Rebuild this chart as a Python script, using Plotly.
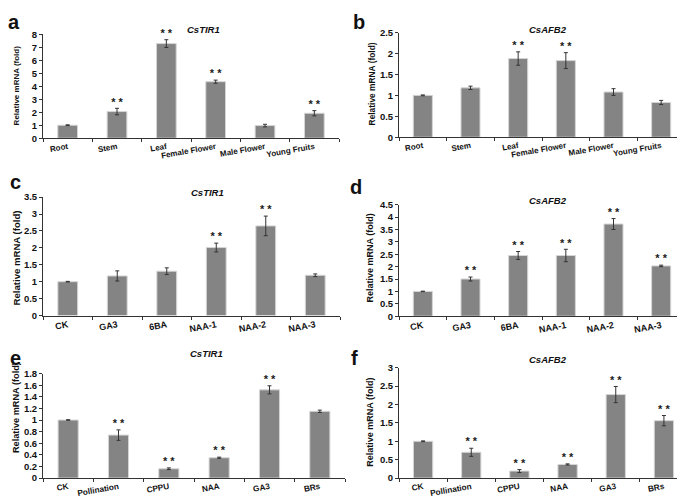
import plotly.graph_objects as go

# ---------------- data ----------------
tissues = ["Root", "Stem", "Leaf", "Female Flower", "Male Flower", "Young Fruits"]
treat1 = ["CK", "GA3", "6BA", "NAA-1", "NAA-2", "NAA-3"]
treat2 = ["CK", "Pollination", "CPPU", "NAA", "GA3", "BRs"]

a_vals = [1.0, 2.05, 7.28, 4.35, 0.97, 1.92]
a_err = [0.03, 0.25, 0.3, 0.12, 0.1, 0.2]
a_sig = ["", "**", "**", "**", "", "**"]

b_vals = [1.0, 1.18, 1.88, 1.83, 1.08, 0.83]
b_err = [0.01, 0.04, 0.16, 0.19, 0.08, 0.05]
b_sig = ["", "", "**", "**", "", ""]

c_vals = [1.0, 1.17, 1.31, 2.01, 2.65, 1.19]
c_err = [0.01, 0.15, 0.1, 0.13, 0.29, 0.04]
c_sig = ["", "", "", "**", "**", ""]

d_vals = [1.0, 1.5, 2.45, 2.45, 3.72, 2.03]
d_err = [0.01, 0.08, 0.16, 0.25, 0.22, 0.03]
d_sig = ["", "**", "**", "**", "**", "**"]

e_vals = [1.0, 0.74, 0.16, 0.35, 1.52, 1.15]
e_err = [0.005, 0.09, 0.015, 0.01, 0.07, 0.02]
e_sig = ["", "**", "**", "**", "**", ""]

f_vals = [1.0, 0.7, 0.19, 0.37, 2.27, 1.56]
f_err = [0.01, 0.11, 0.04, 0.015, 0.22, 0.14]
f_sig = ["", "**", "**", "**", "**", "**"]

W, H = 685, 499
FONT = "Arial, Liberation Sans, sans-serif"

# letter, title, categories, values, errors, sig, ymax, dtick, px box (x0,x1,ybottom,ytop),
# letter pos, title pos, ytitle pos, ytitle size, xtick size
panels = [
    ("a", "CsTIR1", tissues, a_vals, a_err, a_sig, 8, 1, (35, 331, 127, 20.7), (6, 8), (195, 16), (8, 73), 8, 8),
    ("b", "CsAFB2", tissues, b_vals, b_err, b_sig, 2.5, 0.5, (391, 677, 126, 19), (351, 8), (540, 16), (364, 72), 8.4, 8),
    ("c", "CsTIR1", treat1, c_vals, c_err, c_sig, 3.5, 0.5, (35, 332, 308.3, 187.3), (7, 172), (200, 183), (8, 250), 9.6, 9),
    ("d", "CsAFB2", treat1, d_vals, d_err, d_sig, 4.5, 0.5, (391, 677, 309, 195), (348, 177), (540, 191), (362, 250), 9, 9),
    ("e", "CsTIR1", treat2, e_vals, e_err, e_sig, 1.8, 0.2, (35, 337, 474.5, 367.7), (7, 352), (198, 347), (8, 403), 9.2, 8.2),
    ("f", "CsAFB2", treat2, f_vals, f_err, f_sig, 3, 0.5, (391, 680, 474.5, 361.7), (346, 352), (540, 353), (362, 418), 9, 8.2),
]

fig = go.Figure()
annotations = []
layout = {}

for i, (letter, title, cats, vals, errs, sig, ymax, dtick, box, lpos, tpos, ypos, ysz, xsz) in enumerate(panels):
    n = "" if i == 0 else str(i + 1)
    xa, ya = "x" + n, "y" + n
    x0, x1, yb, yt = box
    fig.add_trace(go.Bar(
        x=cats, y=vals, xaxis=xa, yaxis=ya, width=0.4,
        marker=dict(color="#848484", line=dict(color="#d6d6d6", width=1)),
        error_y=dict(type="data", array=errs, visible=True, color="#333333", thickness=1, width=2),
        showlegend=False,
    ))
    fig.add_trace(go.Scatter(
        x=cats, y=[v + e for v, e in zip(vals, errs)], xaxis=xa, yaxis=ya,
        mode="text", text=[s.replace("**", "* *") for s in sig], textposition="top center",
        textfont=dict(family=FONT, size=11, color="#1a1a1a", weight="bold"),
        showlegend=False, cliponaxis=False, hoverinfo="skip",
    ))
    layout["xaxis" + n] = dict(
        domain=[x0 / W, x1 / W], anchor=ya, showline=True, linecolor="#333333", linewidth=1,
        ticks="outside", ticklen=3, tickcolor="#333333", tickson="boundaries",
        tickangle=-10, tickfont=dict(family=FONT, size=xsz, color="#111111", weight="bold"),
        showgrid=False, fixedrange=True,
    )
    layout["yaxis" + n] = dict(
        domain=[1 - yb / H, 1 - yt / H], anchor=xa, range=[0, ymax], dtick=dtick,
        showline=True, linecolor="#333333", linewidth=1,
        ticks="outside", ticklen=3, tickcolor="#333333",
        tickfont=dict(family=FONT, size=9.5, color="#111111", weight="bold"),
        showgrid=False, zeroline=False,
    )
    annotations.append(dict(
        text="<b>%s</b>" % letter, x=lpos[0] / W, y=1 - lpos[1] / H, xref="paper", yref="paper",
        showarrow=False, font=dict(family=FONT, size=20, color="#111111"),
        xanchor="center", yanchor="middle",
    ))
    annotations.append(dict(
        text="<b><i>%s</i></b>" % title, x=tpos[0] / W, y=1 - tpos[1] / H, xref="paper", yref="paper",
        showarrow=False, font=dict(family=FONT, size=9.5, color="#111111"),
        xanchor="center", yanchor="middle",
    ))
    annotations.append(dict(
        text="<b>Relative mRNA (fold)</b>", x=ypos[0] / W, y=1 - ypos[1] / H, xref="paper", yref="paper",
        showarrow=False, textangle=-90, font=dict(family=FONT, size=ysz, color="#111111"),
        xanchor="center", yanchor="middle",
    ))

fig.update_layout(
    width=W, height=H, margin=dict(l=0, r=0, t=0, b=0),
    paper_bgcolor="white", plot_bgcolor="white",
    annotations=annotations, bargap=0.6, **layout,
)

fig.write_html("out.html")
